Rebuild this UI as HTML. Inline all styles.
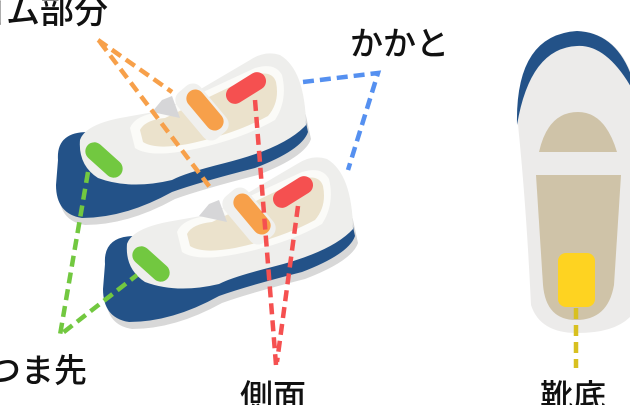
<!DOCTYPE html>
<html><head><meta charset="utf-8"><style>
html,body{margin:0;padding:0;background:#fff;width:630px;height:405px;overflow:hidden}
svg{display:block}
text{font-family:"Liberation Sans","Noto Sans CJK JP",sans-serif;font-weight:500;fill:#111}
</style></head><body>
<svg width="630" height="405" viewBox="0 0 630 405">
<defs>
<g id="shoe">
  <path d="M58,160 Q56,132 88,132 L300,95 L308,132 Q302,150 255,168 Q200,182 172,192 Q125,218 82,218 Q56,214 56,185 Z" fill="#d8d8d8" transform="translate(3,7)"/>
  <path d="M58,160 Q56,132 88,132 L300,95 L308,132 Q302,150 255,168 Q200,182 172,192 Q125,218 82,218 Q56,214 56,185 Z" fill="#235288"/>
  <path d="M80,140 Q85,125 120,118 L165,110 L250,60 Q265,50 280,55 Q305,70 306,125 Q285,148 225,163 Q185,173 172,180 Q130,190 98,178 Q78,165 80,140 Z" fill="#eeeeec"/>
  <path d="M130,128 Q135,115 160,112 L255,68 Q275,62 282,75 Q288,100 275,120 Q240,140 190,150 Q150,158 135,148 Z" fill="#fbfbf8"/>
  <path d="M140,130 Q145,120 165,118 L255,75 Q272,70 276,82 Q280,102 268,116 Q235,134 188,144 Q155,150 143,142 Z" fill="#ebe2cc"/>
  <path d="M152,112 L162,100 L172,96 L180,118 Z" fill="#d6d6d8"/>
  <rect x="-30" y="-15" width="60" height="30" rx="10" fill="#f0f0ee" transform="translate(202,112) rotate(50)"/>
  <rect x="-24" y="-9" width="48" height="18" rx="9" fill="#f7a04a" transform="translate(205,110) rotate(50)"/>
  <rect x="-22" y="-9" width="44" height="18" rx="9" fill="#f55050" transform="translate(246,88) rotate(-32)"/>
  <rect x="-22" y="-9" width="44" height="18" rx="9" fill="#72c840" transform="translate(104,160) rotate(42)"/>
</g>
</defs>
<use href="#shoe"/>
<use href="#shoe" transform="translate(47,104)"/>

<!-- sole view -->
<path d="M517,115 Q520,35 577,31 Q630,33 640,110 L640,300 Q630,333 577,333 Q540,333 531,305 Q526,200 517,115 Z" fill="#ecebea"/>
<path d="M517,125 Q515,35 577,31 Q625,33 638,100 Q610,44 577,46 Q530,48 517,125 Z" fill="#235288"/>
<path d="M539,152 Q548,112 578,112 Q605,112 617,152 Z" fill="#cfc3a8"/>
<path d="M536,175 L621,175 L614,285 Q608,320 576,320 Q546,320 543,285 Z" fill="#cfc3a8"/>
<rect x="558" y="253" width="37" height="54" rx="8" fill="#fed321"/>

<!-- dashed leaders -->
<g fill="none" stroke-width="4.5" stroke-dasharray="11,6">
  <path d="M98,40 L172,92 M100,42 L212,190" stroke="#f7a04a"/>
  <path d="M255,100 L276,365 M298,206 L277,362" stroke="#f55050"/>
  <path d="M303,82 L378,73 L348,170" stroke="#5590f0"/>
  <path d="M88,172 L60,335 L137,275" stroke="#72c840"/>
  <path d="M576,308 L576,368" stroke="#d8c020"/>
</g>

<text x="-28" y="23" font-size="34">ゴム部分</text>
<text x="350" y="55" font-size="33">かかと</text>
<text x="-12" y="382" font-size="33">つま先</text>
<text x="240" y="408" font-size="33">側面</text>
<text x="540" y="408" font-size="33">靴底</text>
</svg>
</body></html>
